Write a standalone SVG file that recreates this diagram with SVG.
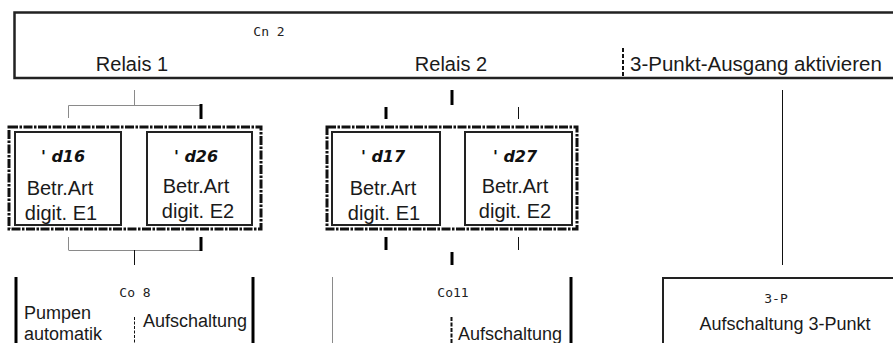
<svg xmlns="http://www.w3.org/2000/svg" width="893" height="343" viewBox="0 0 893 343">
<style>
.t{font-family:"Liberation Sans",Arial,sans-serif;fill:#1a1a1a}
.l20{font-size:20px}
.l18{font-size:18px}
.disp{font-family:"DejaVu Sans","Liberation Sans",sans-serif;font-weight:bold;font-style:italic;font-size:16px;fill:#111}
.seg{font-family:"DejaVu Sans Mono","Liberation Mono",monospace;font-weight:normal;font-size:13px;fill:#222}
.thin{stroke:#8a8a8a;stroke-width:1;fill:none}
.thinb{stroke:#111;stroke-width:1;fill:none}
.thick{stroke:#000;stroke-width:3;fill:none}
.frame{stroke:#111;stroke-width:3;fill:none;stroke-dasharray:9 1.5 2.5 1.5}
.box{stroke:#222;stroke-width:2;fill:#fff}
</style>
<g id="top">
<path d="M893 12.5H14.5V78H893" stroke="#222" stroke-width="2.5" fill="none"/>
<text class="seg" x="269" y="36" text-anchor="middle">Cn  2</text>
<text class="t l20" x="132" y="71" text-anchor="middle">Relais 1</text>
<text class="t l20" x="451" y="71" text-anchor="middle">Relais 2</text>
<line x1="623" y1="48" x2="623" y2="78" stroke="#111" stroke-width="2" stroke-dasharray="4 2"/>
<text class="t" x="630" y="71" font-size="20.5">3-Punkt-Ausgang aktivieren</text>
</g>
<g id="connectors">
<line class="thin" x1="134.5" y1="90" x2="134.5" y2="105"/>
<polyline class="thin" points="68.5,118 68.5,105.5 201,105.5"/>
<line class="thick" x1="201" y1="104" x2="201" y2="119"/>
<line class="thin" x1="68.5" y1="237" x2="68.5" y2="250"/>
<polyline class="thin" points="68.5,250.5 201,250.5"/>
<line class="thick" x1="201" y1="237" x2="201" y2="251"/>
<line class="thinb" x1="134.5" y1="250" x2="134.5" y2="265"/>
<line class="thick" x1="452" y1="90" x2="452" y2="105"/>
<line class="thick" x1="386" y1="107" x2="386" y2="119"/>
<line class="thinb" x1="518.5" y1="107" x2="518.5" y2="119"/>
<line class="thick" x1="386" y1="237" x2="386" y2="250"/>
<line class="thinb" x1="518.5" y1="237" x2="518.5" y2="250"/>
<line class="thick" x1="452" y1="252" x2="452" y2="265"/>
<line class="thinb" x1="782.5" y1="90" x2="782.5" y2="265"/>
</g>
<g id="relais1-group">
<rect class="frame" x="9" y="127" width="252" height="102"/>
</g>
<g id="d16">
<rect class="box" x="15" y="132" width="106" height="93"/>
<text class="disp" x="63" y="162" text-anchor="middle">' d16</text>
<text class="t l20" x="60" y="195" text-anchor="middle">Betr.Art</text>
<text class="t l20" x="61" y="220" text-anchor="middle">digit. E1</text>
</g>
<g id="d26">
<rect class="box" x="147" y="132" width="105" height="93"/>
<text class="disp" x="196" y="162" text-anchor="middle">' d26</text>
<text class="t l20" x="196" y="193" text-anchor="middle">Betr.Art</text>
<text class="t l20" x="198" y="218" text-anchor="middle">digit. E2</text>
</g>
<g id="relais2-group">
<rect class="frame" x="327" y="127" width="250" height="102"/>
</g>
<g id="d17">
<rect class="box" x="332" y="132" width="108" height="93"/>
<text class="disp" x="383" y="162" text-anchor="middle">' d17</text>
<text class="t l20" x="383" y="195" text-anchor="middle">Betr.Art</text>
<text class="t l20" x="384" y="220" text-anchor="middle">digit. E1</text>
</g>
<g id="d27">
<rect class="box" x="465" y="132" width="107" height="93"/>
<text class="disp" x="515" y="162" text-anchor="middle">' d27</text>
<text class="t l20" x="515" y="193" text-anchor="middle">Betr.Art</text>
<text class="t l20" x="515" y="218" text-anchor="middle">digit. E2</text>
</g>
<g id="co8">
<line class="thick" x1="16" y1="277" x2="16" y2="343"/>
<line class="thick" x1="253" y1="277" x2="253" y2="343"/>
<text class="seg" x="135" y="297" text-anchor="middle">Co  8</text>
<text class="t l18" x="24" y="319">Pumpen</text>
<text class="t l18" x="24" y="340">automatik</text>
<line x1="134.5" y1="317" x2="134.5" y2="343" stroke="#111" stroke-width="1" stroke-dasharray="3 1.5"/>
<text class="t l18" x="143" y="327">Aufschaltung</text>
</g>
<g id="co11">
<line class="thin" x1="332.5" y1="277" x2="332.5" y2="343"/>
<line class="thick" x1="571" y1="277" x2="571" y2="343"/>
<text class="seg" x="453" y="297" text-anchor="middle">Co11</text>
<line x1="451.5" y1="317" x2="451.5" y2="343" stroke="#111" stroke-width="2" stroke-dasharray="4 1.5"/>
<text class="t l18" x="458" y="340">Aufschaltung</text>
</g>
<g id="threep">
<path d="M663 343V278H893" stroke="#222" stroke-width="2" fill="none"/>
<text class="seg" x="776" y="303" text-anchor="middle">3-P</text>
<text class="t l18" x="785" y="330" text-anchor="middle">Aufschaltung 3-Punkt</text>
</g>
</svg>
